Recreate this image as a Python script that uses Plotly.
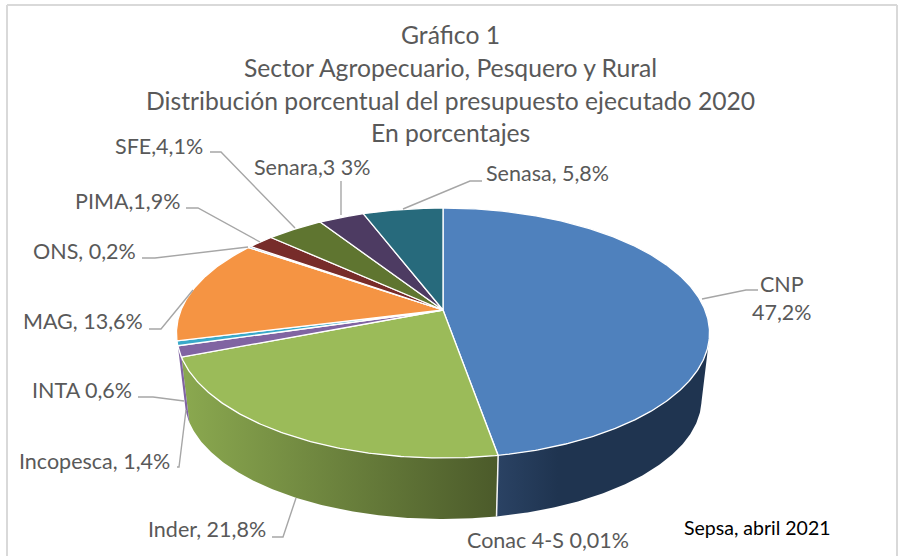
import math
import plotly.graph_objects as go

# ---- data ----
categories = ["CNP", "Conac 4-S", "Inder", "Incopesca", "INTA", "MAG", "ONS", "PIMA", "SFE", "Senara", "Senasa"]
values = [47.2, 0.01, 21.8, 1.4, 0.6, 13.6, 0.2, 1.9, 4.1, 3.3, 5.8]
label_texts = ["CNP<br>47,2%", "Conac 4-S 0,01%", "Inder, 21,8%", "Incopesca, 1,4%", "INTA 0,6%", "MAG, 13,6%",
               "ONS, 0,2%", "PIMA,1,9%", "SFE,4,1%", "Senara,3 3%", "Senasa, 5,8%"]
title_lines = ["Gráfico 1", "Sector Agropecuario, Pesquero y Rural",
               "Distribución porcentual del presupuesto ejecutado 2020", "En porcentajes"]
source_note = "Sepsa, abril 2021"

# ---- styles ----
top_colors = ["#4F81BD", "#4F81BD", "#9BBB59", "#8064A2", "#3AA9C9", "#F59443",
              "#4F81BD", "#772C2A", "#5F7530", "#4D3B62", "#276A7C"]
wall_gradients = {
    "CNP": ([[0, "#2A4263"], [0.28, "#1F3450"], [1, "#1F3450"]], 499, 710),
    "Conac 4-S": ([[0, "#2A4263"], [1, "#2A4263"]], 0, 903),
    "Inder": ([[0, "#8AA84F"], [1, "#4B5A2A"]], 185, 499),
    "Incopesca": ([[0, "#8064A2"], [1, "#8064A2"]], 0, 903),
}
TEXT = "#595959"
FONT = "Lato"

# ---- projection of the tilted disc ----
CX, CY, A, C, K = 443.0, 310.0, 262.0, 120.8, 0.184
ELL_CY, W_SX, W_SY, W_DY = 333.0, 0.97, 0.96, 66.0
WALL_FROM, WALL_TO = 102.0, 254.0


def project(deg):
    t = math.radians(deg)
    X, Y = math.sin(t), -math.cos(t)
    w = 1 - K * Y
    return CX + A * X / w, CY + C * Y / w


def lower(pt):
    return CX + W_SX * (pt[0] - CX), ELL_CY + W_SY * (pt[1] - ELL_CY) + W_DY


def arc(a0, a1):
    n = max(2, int(abs(a1 - a0) / 0.5) + 2)
    return [project(a0 + (a1 - a0) * i / (n - 1)) for i in range(n)]


total = sum(values)
edges = [0.0]
for v in values:
    edges.append(edges[-1] + 360.0 * v / total)

fig = go.Figure()

# side walls
for i, name in enumerate(categories):
    if name not in wall_gradients:
        continue
    a0, a1 = max(edges[i], WALL_FROM), min(edges[i + 1], WALL_TO)
    if a1 <= a0:
        continue
    up = arc(a0, a1)
    lo = [lower(p) for p in reversed(up)]
    pts = up + lo + [up[0]]
    scale, g0, g1 = wall_gradients[name]
    fig.add_trace(go.Scatter(
        x=[p[0] for p in pts], y=[p[1] for p in pts], mode="lines", fill="toself",
        line=dict(width=0, color="rgba(0,0,0,0)"),
        fillgradient=dict(type="horizontal", colorscale=scale, start=g0, stop=g1),
        hoverinfo="skip", showlegend=False))

# white edge between the front walls
sep = project(edges[1])
sep_low = lower(sep)
fig.add_trace(go.Scatter(x=[sep[0], sep_low[0]], y=[sep[1], sep_low[1]], mode="lines",
                         line=dict(color="#F4F4F4", width=1.5), hoverinfo="skip", showlegend=False))

# top face
for i, name in enumerate(categories):
    if values[i] < 0.05:
        continue
    pts = [(CX, CY)] + arc(edges[i], edges[i + 1]) + [(CX, CY)]
    fig.add_trace(go.Scatter(
        x=[p[0] for p in pts], y=[p[1] for p in pts], mode="lines", fill="toself",
        fillcolor=top_colors[i], line=dict(color="white", width=1.3),
        name=name, text=label_texts[i], hoverinfo="text", showlegend=False))

# leader lines
leaders = {
    "Senasa": [(403, 209), (470, 181), (482, 181)],
    "Senara": [(341, 215), (341, 181)],
    "SFE": [(295, 228), (221, 152), (210, 152)],
    "PIMA": [(260, 242), (198, 208), (186, 208)],
    "ONS": [(248, 247), (155, 258), (142, 258)],
    "MAG": [(193, 290), (161, 329), (149, 329)],
    "INTA": [(184, 401), (153, 397), (138, 397)],
    "Incopesca": [(186, 410), (179, 467), (177, 467)],
    "Inder": [(296, 498), (283, 537), (272, 537)],
    "CNP": [(702, 299), (746, 290), (758, 290)],
}
for pts in leaders.values():
    fig.add_trace(go.Scatter(x=[p[0] for p in pts], y=[p[1] for p in pts], mode="lines",
                             line=dict(color="#A6A6A6", width=1.4), hoverinfo="skip", showlegend=False))

# label placement: x, y, anchor
placement = {
    "CNP": (782, 298, "center"), "Conac 4-S": (630, 540, "right"), "Inder": (267, 529, "right"),
    "Incopesca": (171, 461, "right"), "INTA": (133, 390, "right"), "MAG": (144, 321, "right"),
    "ONS": (137, 251, "right"), "PIMA": (181, 201, "right"), "SFE": (204, 146, "right"),
    "Senara": (372, 167, "right"), "Senasa": (485, 173, "left"),
}
ann = []
for name, txt in zip(categories, label_texts):
    x, y, anc = placement[name]
    ann.append(dict(x=x, y=y, xref="x", yref="y", text=txt, showarrow=False, xanchor=anc, yanchor="middle",
                    align="center", borderpad=0, font=dict(family=FONT, size=21.5, color=TEXT)))
for line, y in zip(title_lines, [34, 67, 100, 132]):
    ann.append(dict(x=450, y=y, xref="x", yref="y", text=line, showarrow=False, xanchor="center",
                    yanchor="middle", font=dict(family=FONT, size=24.7, color=TEXT)))
ann.append(dict(x=757.5, y=527, xref="x", yref="y", text=source_note, showarrow=False, xanchor="center",
                yanchor="middle", font=dict(family=FONT, size=19.5, color="#000000")))

frame = dict(type="line", xref="x", yref="y", line=dict(color="#D9D9D9", width=2))
shapes = [dict(frame, x0=7, y0=5, x1=897, y1=5), dict(frame, x0=7, y0=5, x1=7, y1=556),
          dict(frame, x0=897, y0=5, x1=897, y1=556)]

fig.update_layout(
    width=903, height=556, margin=dict(l=0, r=0, t=0, b=0),
    paper_bgcolor="white", plot_bgcolor="white", showlegend=False,
    xaxis=dict(range=[0, 903], visible=False, fixedrange=True),
    yaxis=dict(range=[556, 0], visible=False, fixedrange=True),
    annotations=ann, shapes=shapes)

fig.write_html("out.html", config={"displayModeBar": False},
               post_script="document.body.style.margin='0';document.body.style.overflow='hidden';")
